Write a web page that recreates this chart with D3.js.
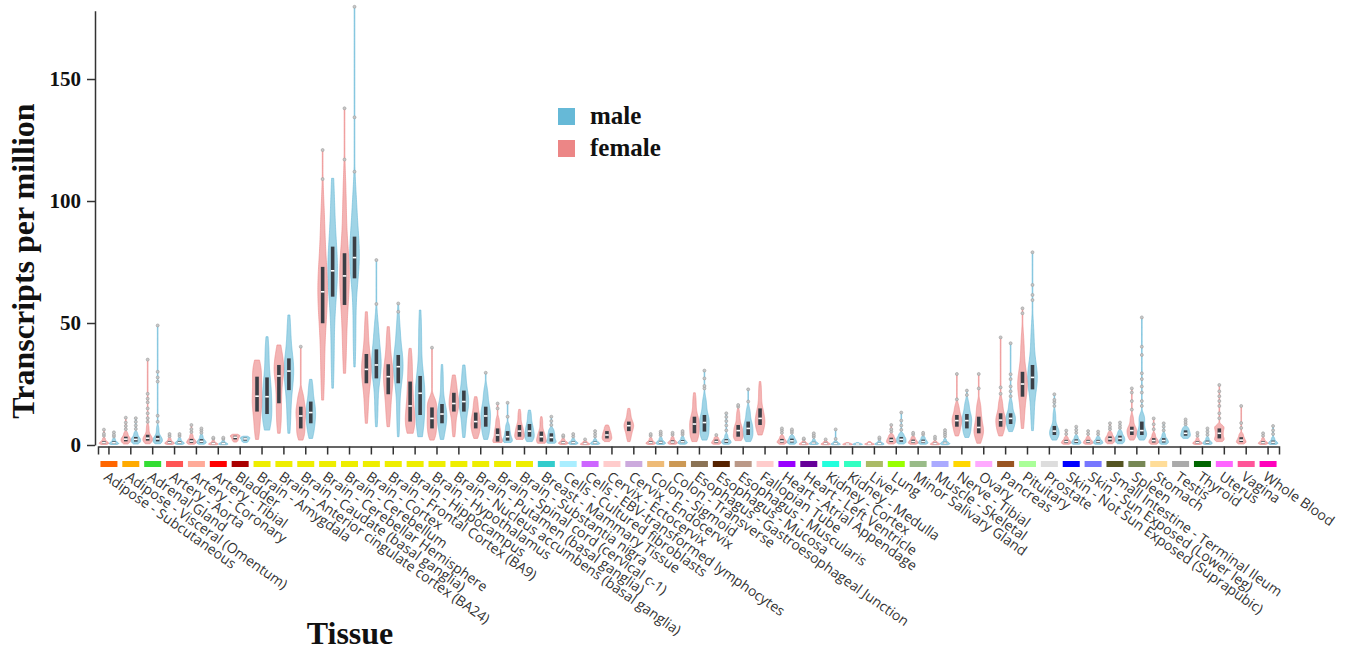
<!DOCTYPE html>
<html>
<head>
<meta charset="utf-8">
<script src="https://cdn.jsdelivr.net/npm/d3@7"></script>
<style>
  body { margin: 0; background: #fff; }
  svg { display: block; }
</style>
</head>
<body>
<svg id="chart" width="1348" height="652"></svg>
<script>
// Tissues along the x axis
const tissues = [
  "Adipose - Subcutaneous", "Adipose - Visceral (Omentum)", "Adrenal Gland",
  "Artery - Aorta", "Artery - Coronary", "Artery - Tibial", "Bladder",
  "Brain - Amygdala", "Brain - Anterior cingulate cortex (BA24)",
  "Brain - Caudate (basal ganglia)", "Brain - Cerebellar Hemisphere",
  "Brain - Cerebellum", "Brain - Cortex", "Brain - Frontal Cortex (BA9)",
  "Brain - Hippocampus", "Brain - Hypothalamus",
  "Brain - Nucleus accumbens (basal ganglia)", "Brain - Putamen (basal ganglia)",
  "Brain - Spinal cord (cervical c-1)", "Brain - Substantia nigra",
  "Breast - Mammary Tissue", "Cells - Cultured fibroblasts",
  "Cells - EBV-transformed lymphocytes", "Cervix - Ectocervix",
  "Cervix - Endocervix", "Colon - Sigmoid", "Colon - Transverse",
  "Esophagus - Gastroesophageal Junction", "Esophagus - Mucosa",
  "Esophagus - Muscularis", "Fallopian Tube", "Heart - Atrial Appendage",
  "Heart - Left Ventricle", "Kidney - Cortex", "Kidney - Medulla", "Liver",
  "Lung", "Minor Salivary Gland", "Muscle - Skeletal", "Nerve - Tibial",
  "Ovary", "Pancreas", "Pituitary", "Prostate",
  "Skin - Not Sun Exposed (Suprapubic)", "Skin - Sun Exposed (Lower leg)",
  "Small Intestine - Terminal Ileum", "Spleen", "Stomach", "Testis",
  "Thyroid", "Uterus", "Vagina", "Whole Blood"
];

// Tissue colour key
const tissueColors = [
  "#FF6600", "#FFAA00", "#33DD33", "#FF5555", "#FFAA99", "#FF0000", "#AA0000",
  "#EEEE00", "#EEEE00", "#EEEE00", "#EEEE00", "#EEEE00", "#EEEE00", "#EEEE00",
  "#EEEE00", "#EEEE00", "#EEEE00", "#EEEE00", "#EEEE00", "#EEEE00",
  "#33CCCC", "#AAEEFF", "#CC66FF", "#FFCCCC", "#CCAADD", "#EEBB77", "#CC9955",
  "#8B7355", "#552200", "#BB9988", "#FFCCCC", "#9900FF", "#660099", "#22FFDD",
  "#33FFC2", "#AABB66", "#99FF00", "#99BB88", "#AAAAFF", "#FFD700", "#FFAAFF",
  "#995522", "#AAFF99", "#DDDDDD", "#0000FF", "#7777FF", "#555522", "#778855",
  "#FFDD99", "#AAAAAA", "#006600", "#FF66FF", "#FF5599", "#FF00BB"
];

// TPM summaries per tissue: [low, Q1, median, Q3, high]; null = no samples
const femaleStats = [
  [0.2, 0.6, 1.0, 1.6, 3.0], [0.4, 1.5, 2.4, 3.4, 5.5], [0.5, 1.8, 2.8, 4.2, 8.5],
  [0.2, 0.6, 1.0, 1.6, 3.0], [0.3, 0.9, 1.6, 2.5, 4.5], [0.1, 0.3, 0.6, 1.0, 2.0],
  [1.2, 2.3, 3.2, 3.8, 4.4],
  [2.3, 13.7, 20.0, 28.0, 34.8], [4.8, 17.1, 28.3, 32.8, 41.0], [2.0, 6.8, 11.9, 15.7, 22.0],
  [18.4, 49.9, 62.8, 73.0, 100.0], [29.4, 57.4, 69.3, 78.6, 110.0], [8.9, 25.3, 31.0, 37.3, 54.6],
  [7.5, 20.8, 28.0, 33.1, 48.5], [4.8, 9.6, 16.0, 26.0, 39.6], [2.0, 6.8, 10.9, 15.4, 19.5],
  [3.4, 13.7, 17.0, 21.4, 28.7], [2.7, 6.8, 9.6, 13.3, 19.8], [1.0, 1.4, 4.1, 6.8, 11.5],
  [2.3, 3.4, 5.7, 8.2, 14.6],
  [0.7, 1.4, 3.4, 5.5, 11.6], [0.2, 0.6, 1.0, 1.5, 2.8], [0.1, 0.3, 0.6, 1.0, 1.8],
  [1.4, 2.7, 4.1, 5.7, 8.2], [1.4, 5.7, 7.9, 9.6, 15.0], [0.2, 0.6, 1.0, 1.6, 3.0],
  [0.3, 0.7, 1.2, 1.9, 3.4], [1.4, 4.8, 8.6, 11.6, 21.4], [0.3, 0.8, 1.4, 2.2, 3.5],
  [1.8, 3.4, 5.9, 8.2, 14.3], [4.1, 8.2, 10.9, 15.0, 26.0], [0.3, 1.0, 1.6, 2.5, 4.0],
  [0.1, 0.3, 0.6, 1.0, 1.8], [0.1, 0.3, 0.6, 1.0, 1.8], [0.1, 0.2, 0.4, 0.6, 1.0],
  [0.1, 0.3, 0.5, 0.8, 1.4], [0.4, 1.2, 2.0, 3.0, 4.5], [0.3, 0.8, 1.4, 2.2, 3.6],
  [0.1, 0.3, 0.6, 1.0, 1.8], [3.7, 7.5, 10.0, 12.3, 17.0], [0.7, 4.8, 7.2, 11.6, 18.0],
  [3.7, 7.5, 10.2, 13.0, 19.1], [6.8, 19.8, 25.0, 30.0, 45.8], null,
  [0.3, 0.8, 1.4, 2.1, 3.5], [0.3, 0.8, 1.4, 2.1, 3.5], [0.5, 1.5, 2.5, 3.5, 5.5],
  [2.0, 4.1, 5.9, 7.5, 12.3], [0.3, 1.0, 1.8, 2.8, 5.0], null,
  [0.2, 0.6, 1.0, 1.6, 3.0], [1.4, 2.7, 4.8, 6.8, 8.2], [0.4, 1.2, 2.0, 3.2, 5.0],
  [0.2, 0.6, 1.0, 1.6, 3.0]
];

const maleStats = [
  [0.2, 0.5, 0.9, 1.5, 2.8], [0.4, 1.4, 2.3, 3.3, 5.5], [0.5, 1.5, 2.5, 3.8, 8.0],
  [0.2, 0.6, 1.0, 1.6, 3.0], [0.3, 0.9, 1.5, 2.4, 4.3], [0.1, 0.3, 0.6, 1.0, 2.0],
  [1.0, 1.8, 2.5, 3.0, 3.6],
  [6.1, 12.7, 19.8, 27.7, 44.4], [4.8, 22.5, 30.3, 35.5, 53.3], [2.7, 8.9, 13.3, 17.8, 26.9],
  [23.3, 60.8, 71.4, 81.3, 109.3], [32.0, 68.3, 76.8, 85.4, 105.0], [7.5, 27.3, 32.8, 39.2, 52.0],
  [3.4, 25.3, 32.1, 36.9, 52.0], [3.4, 12.3, 21.2, 28.3, 55.3], [2.3, 8.9, 12.7, 16.8, 33.0],
  [3.1, 13.7, 17.8, 22.3, 32.8], [2.3, 7.5, 11.9, 15.7, 24.0], [1.0, 1.8, 3.4, 5.7, 9.0],
  [1.4, 3.4, 5.7, 8.6, 14.3],
  [0.7, 1.4, 3.1, 4.8, 7.0], [0.2, 0.6, 1.0, 1.5, 2.8], [0.2, 0.5, 0.9, 1.4, 2.6],
  null, null, [0.2, 0.6, 1.1, 1.7, 3.2],
  [0.3, 0.8, 1.3, 2.0, 3.5], [2.0, 5.5, 9.2, 12.3, 19.8], [0.3, 0.9, 1.6, 2.4, 4.5],
  [1.4, 4.1, 6.8, 9.6, 15.5], null, [0.3, 1.0, 1.7, 2.6, 4.0],
  [0.2, 0.4, 0.8, 1.3, 2.5], [0.1, 0.3, 0.6, 1.0, 1.8], [0.1, 0.2, 0.4, 0.6, 1.0],
  [0.1, 0.3, 0.6, 1.0, 2.0], [0.4, 1.3, 2.3, 3.3, 5.0], [0.3, 0.8, 1.4, 2.2, 3.6],
  [0.1, 0.4, 0.8, 1.3, 2.6], [3.1, 6.8, 10.0, 12.7, 18.4], null,
  [5.5, 8.6, 10.9, 13.0, 18.4], [5.9, 22.8, 27.7, 32.8, 50.0], [2.0, 4.1, 5.7, 7.8, 14.3],
  [0.3, 0.8, 1.5, 2.3, 4.0], [0.3, 0.8, 1.4, 2.1, 3.5], [0.5, 1.6, 2.7, 3.8, 6.0],
  [2.0, 4.1, 5.9, 9.6, 13.0], [0.3, 1.0, 1.8, 2.8, 5.0], [2.7, 3.8, 4.8, 6.0, 7.5],
  [0.2, 0.6, 1.1, 1.8, 3.3], null, null,
  [0.2, 0.6, 1.1, 1.8, 3.3]
];

// Individual high samples beyond each violin body
const femaleOutliers = [
  [3.8, 4.6, 6.3], [6.5, 7.8, 9.2, 11.2], [9.5, 11, 13, 15, 17.5, 19, 21, 35],
  [3.6, 4.5], [5.3, 6.5, 8.2], [2.6, 3.0], [],
  [], [], [40.3], [109, 120.9], [117, 138], [], [], [], [39.9], [], [], [15, 17], [],
  [], [3.4, 4.0], [2.3], [], [], [3.8, 4.5], [4.2, 5.0], [], [4.1], [15.7, 16.4], [],
  [5.0, 6.0, 6.8], [2.3, 2.7], [2.3], [], [], [5.5, 6.5, 8.2], [4.3, 5.0], [2.5, 3.4],
  [18.7, 29.1], [23.2, 29.1], [21, 23.6, 44.1], [54, 56], [], [4.5, 5.9], [4.5, 5.7],
  [6.5, 7.5, 8.9], [14.5, 18, 21.5, 23.2], [6.5, 8.5, 10.9], [], [3.8, 5.0],
  [11, 13, 16, 18, 20, 22, 24.6], [7, 9, 16], [3.8, 4.8]
];

const maleOutliers = [
  [3.5, 4.2, 5.2], [6.6, 8.0, 9.5, 11.0], [9.5, 12, 26, 27.7, 30, 49],
  [3.7, 4.5], [5.0, 6.0, 6.8], [2.5, 3.0], [],
  [], [], [], [], [112, 134.3, 179.6], [57.8, 75.8], [54.6, 58], [], [], [], [29.6],
  [11.6, 17.3], [],
  [8.2, 9.8, 11.6], [3.5, 4.5], [3.5, 4.6, 5.7], [], [], [4.0, 4.8, 5.5], [4.3, 5.0, 5.7],
  [23.2, 24.2, 27.3, 30.5], [6.0, 8.0, 9.8, 11.5, 13], [17.8, 22.8], [],
  [5.0, 5.8, 6.4], [3.3, 4.0, 4.8], [2.5, 6.4], [], [2.5, 3.1], [6.2, 8.0, 10.0, 13.3],
  [4.3, 5.0], [3.5, 4.4, 5.2, 6.1], [20.5, 22.3], [], [20, 22, 24, 27, 29, 41.7],
  [59.4, 61.5, 65.6, 79], [16, 17.5, 18.5, 20.8], [5.0, 6.2, 7.5], [4.4, 5.5],
  [7.0, 8.0, 9.2], [16, 18, 21.5, 24, 27, 29.4, 36.9, 40.3, 52.3], [6.0, 7.5, 8.9],
  [8.5, 9.5, 10.5], [4.2, 5.5, 6.8], [], [], [4.5, 6.0, 7.8]
];

const yTicks = [0, 50, 100, 150];
const sexes = ["male", "female"];
const sexColors = { male: "#66b9d7", female: "#ec8686" };

const svg = d3.select("#chart");
const serif = "'Liberation Serif', 'Times New Roman', serif";

const x = d3.scaleBand().domain(tissues).range([98, 1279]).paddingInner(0).paddingOuter(0);
const y = d3.scaleLinear().domain([0, 178]).range([445, 10.7]);

// Gaussian CDF used to smooth the piecewise density
function erf(v) {
  const t = 1 / (1 + 0.3275911 * Math.abs(v));
  const r = 1 - (((((1.061405429 * t - 1.453152027) * t) + 1.421413741) * t - 0.284496736) * t + 0.254829592) * t * Math.exp(-v * v);
  return v >= 0 ? r : -r;
}
const Phi = z => 0.5 * (1 + erf(z / Math.SQRT2));

// Density profile: quarter of the mass in each box segment, plus a small
// bump for each outlying sample, smoothed by a Gaussian kernel.
function profile(stats, outs) {
  const [lo, q1, med, q3, hi] = stats;
  const top = Math.max(hi, ...outs);
  const h = Math.max((hi - lo) / 9, 0.15);
  const segs = [[lo, q1], [q1, med], [med, q3], [q3, hi]];
  const n = 140;
  return d3.range(n + 1).map(i => {
    const v = lo + (top - lo) * i / n;
    let d = 0;
    segs.forEach(([a, b]) => {
      if (b > a) d += 0.25 / (b - a) * (Phi((b - v) / h) - Phi((a - v) / h));
    });
    outs.forEach(o => {
      const z = (v - o) / h;
      d += 0.006 * Math.exp(-0.5 * z * z) / (h * Math.sqrt(2 * Math.PI));
    });
    return { v, d };
  });
}

const maxHalf = 4.8;
const offset = 5;

// Tissue colour strip
svg.append("g").selectAll("rect")
  .data(tissues)
  .join("rect")
  .attr("x", (d) => x(d) + x.bandwidth() / 2 - 8.5)
  .attr("y", 461)
  .attr("width", 17)
  .attr("height", 6)
  .attr("fill", (d, i) => tissueColors[i]);

// Violins
const violins = svg.append("g");
tissues.forEach((t, i) => {
  const cx = x(t) + x.bandwidth() / 2;
  sexes.forEach(sex => {
    const stats = sex === "male" ? maleStats[i] : femaleStats[i];
    if (!stats) return;
    const outs = sex === "male" ? maleOutliers[i] : femaleOutliers[i];
    const vx = sex === "male" ? cx + offset : cx - offset;
    const prof = profile(stats, outs);
    const dMax = d3.max(prof, p => p.d);
    const w = p => Math.max(0.35, maxHalf * p.d / dMax);
    const area = d3.area()
      .y(p => y(p.v))
      .x0(p => vx - w(p))
      .x1(p => vx + w(p))
      .curve(d3.curveBasis);
    const col = sexColors[sex];
    violins.append("path")
      .attr("d", area(prof))
      .attr("fill", col)
      .attr("fill-opacity", 0.62)
      .attr("stroke", col)
      .attr("stroke-opacity", 0.75)
      .attr("stroke-width", 0.8);

    const [lo, q1, med, q3] = stats;
    violins.append("rect")
      .attr("x", vx - 1.8)
      .attr("y", y(q3))
      .attr("width", 3.6)
      .attr("height", Math.max(1, y(q1) - y(q3)))
      .attr("fill", "#3b3f46");
    violins.append("rect")
      .attr("x", vx - 1.8)
      .attr("y", y(med) - 0.8)
      .attr("width", 3.6)
      .attr("height", 1.6)
      .attr("fill", "#ffffff");

    violins.append("g").selectAll("circle")
      .data(outs)
      .join("circle")
      .attr("cx", vx)
      .attr("cy", d => y(d))
      .attr("r", 1.5)
      .attr("fill", "#c8c8c8")
      .attr("stroke", "#9a9a9a")
      .attr("stroke-width", 0.6);
  });
});

// Y axis
const yAxis = svg.append("g")
  .attr("transform", "translate(95,0)")
  .call(d3.axisLeft(y).tickValues(yTicks).tickSize(8).tickSizeOuter(0).tickPadding(6));
yAxis.select(".domain").attr("stroke", "#333").attr("stroke-width", 1.5);
yAxis.selectAll(".tick line").attr("stroke", "#333").attr("stroke-width", 1.5);
yAxis.selectAll(".tick text")
  .attr("font-family", serif)
  .attr("font-weight", "bold")
  .attr("font-size", 21)
  .attr("fill", "#111");

// X axis
const xAxis = svg.append("g")
  .attr("transform", "translate(0,446.5)")
  .call(d3.axisBottom(x).tickSize(8).tickSizeOuter(8).tickFormat(""));
xAxis.select(".domain").attr("stroke", "#333").attr("stroke-width", 1.5);
xAxis.selectAll(".tick line").attr("stroke", "#333").attr("stroke-width", 1.5);

// Tissue labels
svg.append("g").selectAll("text")
  .data(tissues)
  .join("text")
  .attr("transform", d => `translate(${x(d) + x.bandwidth() / 2 - 6},479) rotate(35)`)
  .attr("font-family", "'Open Sans', sans-serif")
  .attr("font-size", 14)
  .attr("fill", "#333")
  .text(d => d);

// Axis titles
svg.append("text")
  .attr("transform", "translate(34,261) rotate(-90)")
  .attr("text-anchor", "middle")
  .attr("font-family", serif)
  .attr("font-weight", "bold")
  .attr("font-size", 32)
  .attr("fill", "#111")
  .text("Transcripts per million");

svg.append("text")
  .attr("x", 350)
  .attr("y", 644)
  .attr("text-anchor", "middle")
  .attr("font-family", serif)
  .attr("font-weight", "bold")
  .attr("font-size", 32)
  .attr("fill", "#111")
  .text("Tissue");

// Legend
const legend = svg.append("g").attr("transform", "translate(558,108)");
sexes.forEach((s, i) => {
  const g = legend.append("g").attr("transform", `translate(0,${i * 32})`);
  g.append("rect").attr("width", 17).attr("height", 17).attr("fill", sexColors[s]);
  g.append("text")
    .attr("x", 32)
    .attr("y", 16)
    .attr("font-family", serif)
    .attr("font-weight", "bold")
    .attr("font-size", 25)
    .attr("fill", "#111")
    .text(s);
});
</script>
</body>
</html>
